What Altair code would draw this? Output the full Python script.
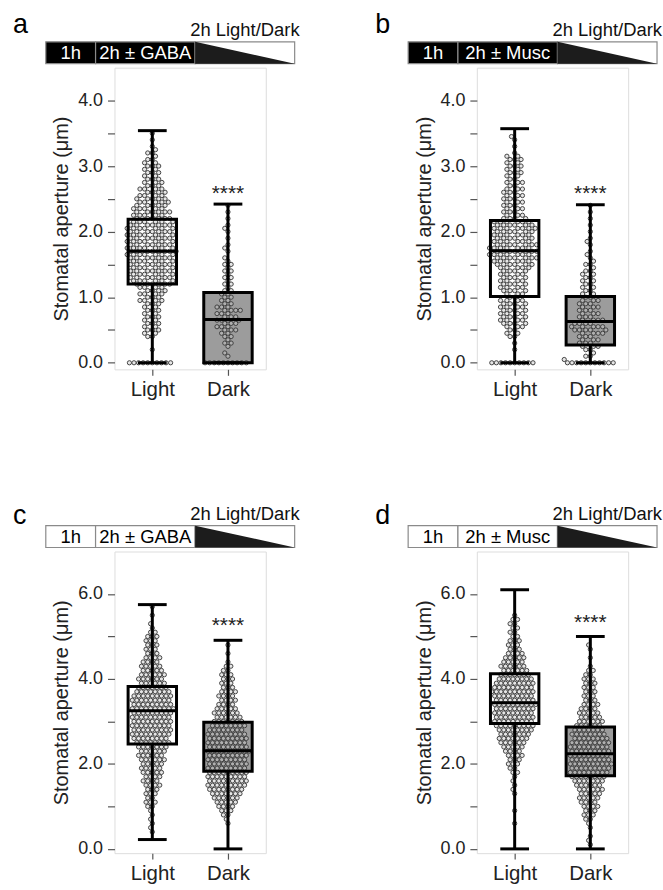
import math
import altair as alt
import pandas as pd

FONT = "Liberation Sans"
GROUPS = ["Light", "Dark"]

# ---------------- box statistics (Light, Dark) ----------------
A_MIN = [0.00, 0.00]; A_Q1 = [1.20, 0.00]; A_MED = [1.70, 0.66]; A_Q3 = [2.19, 1.07]; A_MAX = [3.54, 2.42]; A_SIG = 2.66
B_MIN = [0.00, 0.00]; B_Q1 = [1.01, 0.27]; B_MED = [1.71, 0.63]; B_Q3 = [2.17, 1.01]; B_MAX = [3.57, 2.41]; B_SIG = 2.66
C_MIN = [0.22, 0.00]; C_Q1 = [2.47, 1.83]; C_MED = [3.25, 2.31]; C_Q3 = [3.82, 2.98]; C_MAX = [5.75, 4.91]; C_SIG = 5.38
D_MIN = [0.00, 0.00]; D_Q1 = [2.95, 1.72]; D_MED = [3.44, 2.24]; D_Q3 = [4.12, 2.87]; D_MAX = [6.10, 5.00]; D_SIG = 5.45

# ---------------- individual stomata (value, number of dots at that value) ----------------
A_LIGHT_Y = [0.0, 0.2, 0.4, 0.45, 0.5, 0.55, 0.6, 0.65, 0.7, 0.75, 0.8, 0.85, 0.9, 0.95, 1.0, 1.05, 1.1, 1.15,
             1.2, 1.25, 1.3, 1.35, 1.4, 1.45, 1.5, 1.55, 1.6, 1.65, 1.7, 1.75, 1.8, 1.85, 1.9, 1.95,
             2.0, 2.05, 2.1, 2.15, 2.2, 2.25, 2.3, 2.35, 2.4, 2.45, 2.5, 2.55, 2.6, 2.65, 2.7, 2.75,
             2.8, 2.85, 2.9, 2.95, 3.0, 3.05, 3.1, 3.15, 3.2, 3.25, 3.3, 3.4, 3.5]
A_LIGHT_N = [10, 1, 2, 2, 3, 2, 3, 2, 3, 2, 3, 2, 3, 4, 3, 4, 4, 4,
             6, 6, 7, 6, 7, 6, 7, 6, 7, 7, 8, 7, 7, 7, 7, 7,
             7, 7, 7, 6, 6, 5, 6, 5, 5, 5, 5, 4, 4, 4, 3, 3,
             3, 2, 3, 2, 3, 2, 2, 1, 2, 1, 1, 1, 1]
A_DARK_Y = [0.0, 0.1, 0.15, 0.25, 0.3, 0.35, 0.4, 0.45, 0.5, 0.55, 0.6, 0.65, 0.7, 0.75, 0.8, 0.85, 0.9, 0.95,
            1.0, 1.05, 1.1, 1.15, 1.2, 1.25, 1.3, 1.35, 1.4, 1.45, 1.5, 1.55, 1.6, 1.7, 1.75, 1.8, 1.9,
            2.0, 2.05, 2.1, 2.2, 2.3, 2.4]
A_DARK_N = [10, 1, 1, 1, 2, 1, 2, 2, 3, 3, 3, 4, 3, 3, 4, 3, 2, 2,
            2, 2, 2, 1, 2, 1, 2, 1, 2, 1, 2, 1, 1, 1, 1, 1, 1,
            1, 1, 1, 1, 1, 1]

B_LIGHT_Y = [0.0, 0.2, 0.3, 0.4, 0.45, 0.5, 0.55, 0.6, 0.65, 0.7, 0.75, 0.8, 0.85, 0.9, 0.95,
             1.0, 1.05, 1.1, 1.15, 1.2, 1.25, 1.3, 1.35, 1.4, 1.45, 1.5, 1.55, 1.6, 1.65, 1.7, 1.75,
             1.8, 1.85, 1.9, 1.95, 2.0, 2.05, 2.1, 2.15, 2.2, 2.25, 2.3, 2.35, 2.4, 2.45, 2.5, 2.55,
             2.6, 2.65, 2.7, 2.75, 2.8, 2.85, 2.9, 2.95, 3.0, 3.05, 3.1, 3.15, 3.2, 3.3, 3.4, 3.45]
B_LIGHT_N = [10, 1, 1, 2, 2, 2, 3, 4, 4, 4, 4, 4, 4, 4, 4,
             2, 3, 4, 4, 4, 4, 4, 4, 4, 5, 6, 6, 7, 7, 7, 7,
             7, 6, 6, 6, 6, 7, 6, 6, 4, 3, 3, 3, 3, 3, 3, 3,
             3, 3, 2, 3, 2, 2, 3, 2, 3, 2, 3, 2, 1, 1, 1, 1]
B_DARK_Y = [0.0, 0.05, 0.1, 0.15, 0.2, 0.25, 0.3, 0.35, 0.4, 0.45, 0.5, 0.55, 0.6, 0.65, 0.7, 0.75, 0.8,
            0.85, 0.9, 0.95, 1.0, 1.05, 1.1, 1.15, 1.2, 1.25, 1.3, 1.35, 1.4, 1.45, 1.5, 1.55, 1.6,
            1.65, 1.7, 1.8, 1.85, 1.9, 2.0, 2.1, 2.2, 2.3, 2.4]
B_DARK_N = [11, 1, 2, 1, 2, 3, 3, 3, 3, 4, 5, 5, 4, 4, 3, 3, 3,
            3, 3, 3, 2, 2, 2, 2, 2, 2, 2, 2, 2, 1, 2, 1, 1,
            1, 1, 1, 1, 1, 1, 1, 1, 1, 1]

C_LIGHT_Y = [0.4, 0.5, 0.6, 0.7, 0.8, 0.9, 1.0, 1.1, 1.2, 1.3, 1.4, 1.5, 1.6, 1.7, 1.8, 1.9,
             2.0, 2.1, 2.2, 2.3, 2.4, 2.5, 2.6, 2.7, 2.8, 2.9, 3.0, 3.1, 3.2, 3.3, 3.4, 3.5, 3.6,
             3.7, 3.8, 3.9, 4.0, 4.1, 4.2, 4.3, 4.4, 4.5, 4.6, 4.7, 4.8, 4.9, 5.0, 5.1, 5.2, 5.3,
             5.5, 5.7]
C_LIGHT_N = [1, 1, 1, 1, 1, 1, 2, 3, 2, 3, 3, 4, 4, 4, 5, 5,
             5, 6, 6, 6, 7, 8, 8, 9, 9, 9, 9, 9, 9, 10, 9, 9, 9,
             8, 7, 6, 6, 6, 5, 5, 4, 4, 3, 3, 3, 3, 3, 2, 1, 1,
             1, 1]
C_DARK_Y = [0.6, 0.7, 0.8, 0.9, 1.0, 1.1, 1.2, 1.3, 1.4, 1.5, 1.6, 1.7, 1.8, 1.9, 2.0, 2.1, 2.2,
            2.3, 2.4, 2.5, 2.6, 2.7, 2.8, 2.9, 3.0, 3.1, 3.2, 3.3, 3.4, 3.5, 3.6, 3.7, 3.8, 3.9,
            4.0, 4.1, 4.2, 4.3, 4.4, 4.6, 4.8]
C_DARK_N = [1, 1, 2, 3, 4, 5, 6, 7, 8, 9, 9, 9, 9, 9, 9, 9, 9,
            10, 9, 9, 9, 9, 8, 8, 7, 6, 6, 5, 4, 4, 4, 4, 3, 3,
            3, 3, 2, 2, 1, 1, 1]

D_LIGHT_Y = [0.6, 0.9, 1.3, 1.4, 1.5, 1.6, 1.7, 1.8, 1.9, 2.0, 2.1, 2.2, 2.3, 2.4, 2.5, 2.6, 2.7,
             2.8, 2.9, 3.0, 3.1, 3.2, 3.3, 3.4, 3.5, 3.6, 3.7, 3.8, 3.9, 4.0, 4.1, 4.2, 4.3, 4.4,
             4.5, 4.6, 4.7, 4.8, 4.9, 5.0, 5.1, 5.2, 5.3, 5.4, 5.5]
D_LIGHT_N = [1, 1, 1, 1, 1, 1, 1, 2, 2, 3, 3, 4, 4, 5, 6, 7, 7,
             8, 9, 9, 9, 9, 9, 10, 9, 9, 10, 9, 9, 8, 7, 6, 6, 5,
             5, 4, 3, 3, 3, 2, 2, 2, 2, 2, 1]
D_DARK_Y = [0.1, 0.2, 0.3, 0.5, 0.6, 0.7, 0.8, 0.9, 1.0, 1.1, 1.2, 1.3, 1.4, 1.5, 1.6, 1.7, 1.8,
            1.9, 2.0, 2.1, 2.2, 2.3, 2.4, 2.5, 2.6, 2.7, 2.8, 2.9, 3.0, 3.1, 3.2, 3.3, 3.4, 3.5,
            3.6, 3.7, 3.8, 3.9, 4.0, 4.1, 4.2, 4.3, 4.5, 4.7, 4.8]
D_DARK_N = [1, 1, 1, 1, 1, 2, 3, 3, 4, 4, 5, 5, 6, 6, 7, 8, 9,
            9, 10, 9, 9, 9, 9, 9, 8, 8, 7, 6, 6, 5, 5, 4, 4, 3,
            3, 3, 3, 3, 3, 2, 2, 1, 1, 1, 1]

# ---------------- timeline header (hours) ----------------
SEG_START = [0, 1, 3]
SEG_END = [1, 3, 5]
TRI_X = [3, 5]
TRI_TOP = [1, 0]

# ---------------- layout / style constants ----------------
PLOT_W, PLOT_H = 152, 303
X_DOMAIN = [-0.5, 1.5]
PPX = PLOT_W / (X_DOMAIN[1] - X_DOMAIN[0])
BOX_HALF = 0.32
CAP_HALF = 0.19
DOT = 4.6
HEAD_X_RANGE = [-69, 181]
HEAD_Y_RANGE = [-4, -26]
TXT = "#222222"


def swarm(ys, ns, gidx, ppu_y):
    vals = []
    for v, n in zip(ys, ns, strict=True):
        vals += [v] * n
    vals.sort()
    placed, rows = [], []
    for v in vals:
        y = v * ppu_y
        near = [(px, py) for px, py in placed if abs(py - y) < DOT]
        cands = [0.0]
        for px, py in near:
            dx = math.sqrt(max(DOT * DOT - (py - y) ** 2, 0.0))
            cands += [px + dx, px - dx]
        cands = sorted(set(round(c, 4) for c in cands), key=lambda c: (abs(c), c))
        chosen = cands[-1]
        for c in cands:
            if all((c - px) ** 2 + (y - py) ** 2 >= DOT * DOT - 1e-3 for px, py in near):
                chosen = c
                break
        placed.append((chosen, y))
        rows.append({"x": gidx + chosen / PPX, "y": v})
    return rows


def panel(letter, drug, dark_pre, ymax, tick_vals, label_step, stats, light, dark, sig, letter_dy):
    ymin = -0.1
    ppu_y = PLOT_H / (ymax - ymin)
    pts = pd.DataFrame(swarm(light[0], light[1], 0, ppu_y) + swarm(dark[0], dark[1], 1, ppu_y))
    mn, q1, med, q3, mx = stats
    st = pd.DataFrame({"g": [0, 1], "name": GROUPS, "mn": mn, "q1": q1, "med": med, "q3": q3,
                       "mx": mx, "fill": ["white", "#9c9c9c"]})
    sg = pd.DataFrame({"g": [1], "y": [sig]})

    xs = alt.Scale(domain=X_DOMAIN, nice=False, zero=False)
    ys = alt.Scale(domain=[ymin, ymax], nice=False, zero=False)
    x_axis = alt.Axis(values=[0, 1], labelExpr="datum.value == 0 ? 'Light' : 'Dark'", title=None,
                      grid=False, domain=False, tickSize=6, tickWidth=1.2, tickColor="#555555",
                      labelFontSize=20.5, labelColor=TXT, labelPadding=4, labelFlush=False,
                      labelFont=FONT)
    y_axis = alt.Axis(values=tick_vals,
                      labelExpr=f"datum.value % {label_step} === 0 ? format(datum.value, '.1f') : ''",
                      title="Stomatal aperture (μm)", grid=False, domain=False, tickSize=7,
                      tickWidth=1.2, tickColor="#555555", labelFontSize=18, labelColor=TXT,
                      labelPadding=5, labelFlush=False, labelOverlap=False, labelFont=FONT,
                      titleFont=FONT, titleFontSize=20, titleFontWeight="normal", titleColor=TXT,
                      titlePadding=6)

    def X(f):
        return alt.X(f, scale=xs, axis=x_axis)

    def Y(f):
        return alt.Y(f, scale=ys, axis=y_axis)

    base = alt.Chart(st).transform_calculate(
        lo=f"datum.g - {BOX_HALF}", hi=f"datum.g + {BOX_HALF}",
        clo=f"datum.g - {CAP_HALF}", chi=f"datum.g + {CAP_HALF}")

    box_fill = base.mark_rect(strokeWidth=0).encode(
        x=X("lo:Q"), x2="hi:Q", y=Y("q1:Q"), y2="q3:Q", fill=alt.Fill("fill:N", scale=None))
    dots = alt.Chart(pts).mark_circle(size=18, fill="#c8c8c8", fillOpacity=0.45, stroke="#3c3c3c",
                                      strokeWidth=0.95, opacity=1).encode(x=X("x:Q"), y=Y("y:Q"))
    whisk_hi = base.mark_rule(color="black", strokeWidth=3).encode(x=X("g:Q"), y=Y("q3:Q"), y2="mx:Q")
    whisk_lo = base.mark_rule(color="black", strokeWidth=3).encode(x=X("g:Q"), y=Y("mn:Q"), y2="q1:Q")
    box_line = base.mark_rect(fillOpacity=0, stroke="black", strokeWidth=3).encode(
        x=X("lo:Q"), x2="hi:Q", y=Y("q1:Q"), y2="q3:Q")
    median = base.mark_rule(color="black", strokeWidth=3).encode(x=X("lo:Q"), x2="hi:Q", y=Y("med:Q"))
    cap_hi = base.mark_rule(color="black", strokeWidth=3).encode(x=X("clo:Q"), x2="chi:Q", y=Y("mx:Q"))
    cap_lo = base.mark_rule(color="black", strokeWidth=3).encode(x=X("clo:Q"), x2="chi:Q", y=Y("mn:Q"))
    stars = alt.Chart(sg).mark_text(text="****", font=FONT, fontSize=21, color=TXT,
                                    baseline="alphabetic", dy=12).encode(x=X("g:Q"), y=Y("y:Q"))
    plot = alt.layer(box_fill, dots, whisk_hi, whisk_lo, box_line, median, cap_hi, cap_lo, stars)

    # ---- timeline header ----
    pre_fill = "#000000" if dark_pre else "#ffffff"
    pre_txt = "#ffffff" if dark_pre else "#000000"
    hd = pd.DataFrame({"start": SEG_START, "end": SEG_END,
                       "label": ["1h", f"2h ± {drug}", ""],
                       "fill": [pre_fill, pre_fill, "#ffffff"],
                       "tc": [pre_txt, pre_txt, pre_txt]})
    hx = alt.Scale(domain=[0, 5], range=HEAD_X_RANGE, nice=False, zero=False)
    hy = alt.Scale(domain=[0, 1], range=HEAD_Y_RANGE, nice=False, zero=False)
    hb = alt.Chart(hd).transform_calculate(b0="0", b1="1", mid="(datum.start + datum.end) / 2", ym="0.5")
    segs = hb.mark_rect(stroke="#8a8a8a", strokeWidth=1.2).encode(
        x=alt.X("start:Q", scale=hx, axis=None), x2="end:Q",
        y=alt.Y("b0:Q", scale=hy, axis=None), y2="b1:Q", fill=alt.Fill("fill:N", scale=None))
    tri = alt.Chart(pd.DataFrame({"t": TRI_X, "top": TRI_TOP, "bot": [0, 0]})).mark_area(
        color="#1c1c1c").encode(x=alt.X("t:Q", scale=hx, axis=None),
                                y=alt.Y("top:Q", scale=hy, axis=None), y2="bot:Q")
    seg_txt = hb.transform_filter("datum.label != ''").mark_text(
        font=FONT, fontSize=18.5, baseline="middle", align="center").encode(
        x=alt.X("mid:Q", scale=hx, axis=None), y=alt.Y("ym:Q", scale=hy, axis=None),
        text="label:N", color=alt.Color("tc:N", scale=None))
    ends = pd.DataFrame({"x": [SEG_START[0], SEG_END[-1]], "y": [1, 1]})
    ld = alt.Chart(ends.iloc[[1]]).mark_text(
        text="2h Light/Dark", font=FONT, fontSize=18.5, color="#111111", align="right",
        baseline="alphabetic", dx=5, dy=-6).encode(
        x=alt.X("x:Q", scale=hx, axis=None), y=alt.Y("y:Q", scale=hy, axis=None))
    let = alt.Chart(ends.iloc[[0]]).mark_text(
        text=letter, font=FONT, fontSize=27, color="#000000", align="left",
        baseline="alphabetic", dx=-33, dy=letter_dy).encode(
        x=alt.X("x:Q", scale=hx, axis=None), y=alt.Y("y:Q", scale=hy, axis=None))
    header = alt.layer(segs, tri, seg_txt, ld, let)

    return alt.layer(plot, header).resolve_scale(x="independent", y="independent").properties(
        width=PLOT_W, height=PLOT_H)


TICKS_AB = [0, 0.5, 1, 1.5, 2, 2.5, 3, 3.5, 4]
TICKS_CD = [0, 1, 2, 3, 4, 5, 6]

pa = panel("a", "GABA", True, 4.5, TICKS_AB, 1, (A_MIN, A_Q1, A_MED, A_Q3, A_MAX),
           (A_LIGHT_Y, A_LIGHT_N), (A_DARK_Y, A_DARK_N), A_SIG, -9)
pb = panel("b", "Musc", True, 4.5, TICKS_AB, 1, (B_MIN, B_Q1, B_MED, B_Q3, B_MAX),
           (B_LIGHT_Y, B_LIGHT_N), (B_DARK_Y, B_DARK_N), B_SIG, -9)
pc = panel("c", "GABA", False, 7.0, TICKS_CD, 2, (C_MIN, C_Q1, C_MED, C_Q3, C_MAX),
           (C_LIGHT_Y, C_LIGHT_N), (C_DARK_Y, C_DARK_N), C_SIG, -2)
pd_ = panel("d", "Musc", False, 7.0, TICKS_CD, 2, (D_MIN, D_Q1, D_MED, D_Q3, D_MAX),
            (D_LIGHT_Y, D_LIGHT_N), (D_DARK_Y, D_DARK_N), D_SIG, -2)

chart = alt.concat(pa, pb, pc, pd_, columns=2, spacing={"row": 183, "column": 212},
                   bounds="flush").properties(
    padding={"left": 12, "top": 8, "right": 0, "bottom": 0}, background="white"
).configure_view(stroke="#808080", strokeWidth=1.5).configure(font=FONT)

chart.save("out.html", embed_options={"renderer": "svg", "actions": False})
